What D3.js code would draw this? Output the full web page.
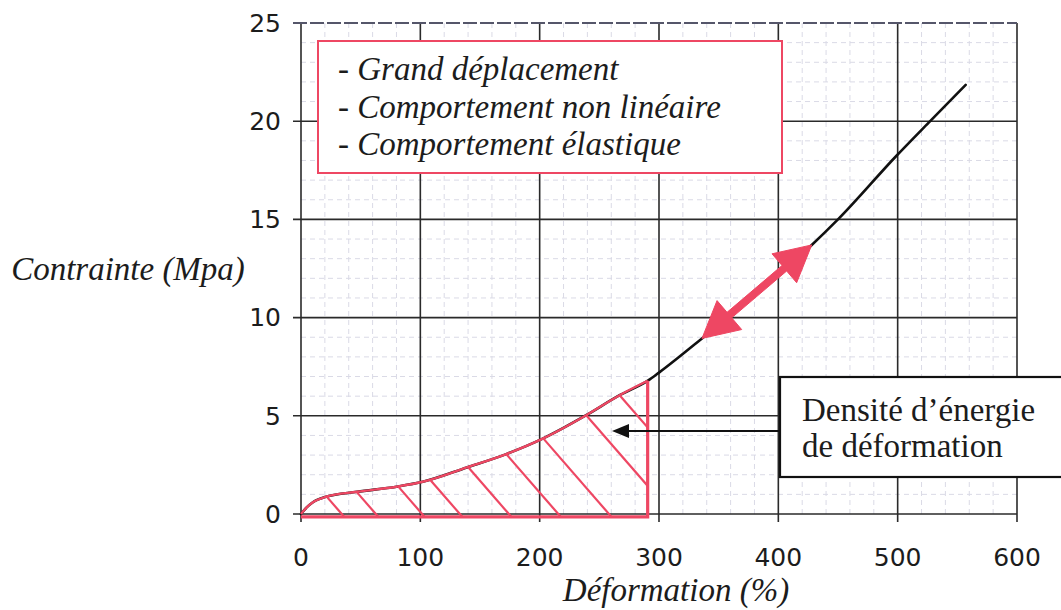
<!DOCTYPE html>
<html>
<head>
<meta charset="utf-8">
<script src="https://cdn.jsdelivr.net/npm/d3@7"></script>
<style>
  html, body { margin: 0; padding: 0; background: #ffffff; }
  svg { display: block; }
</style>
</head>
<body>
<svg id="chart" width="1061" height="610"></svg>
<script>
// Stress–strain curve of an elastomer (large strain, non-linear, elastic)
const strain = [0, 5, 10, 21, 47, 80, 102, 139, 172, 203, 239, 267, 291, 300, 336, 400, 428, 450, 499, 526, 557];
const stress = [0, 0.35, 0.6, 0.88, 1.13, 1.39, 1.64, 2.37, 3.05, 3.85, 5.03, 6.05, 6.8, 7.2, 8.94, 12.2, 13.7, 15.0, 18.24, 19.93, 21.85];

const xTicks = [0, 100, 200, 300, 400, 500, 600];
const yTicks = [0, 5, 10, 15, 20, 25];

// Strain energy density region: integrated up to this strain
const energyLimit = 290.5;
// Strain values where the hatch strokes leave the curve
const hatchStarts = [21.5, 46.6, 81.4, 108, 140, 172, 203, 239, 267];
// Strain range covered by the double arrow along the curve
const arrowRange = [336, 428];

const boxLines = ["- Grand déplacement", "- Comportement non linéaire", "- Comportement élastique"];
const noteLines = ["Densité d’énergie", "de déformation"];
const xTitle = "Déformation (%)";
const yTitle = "Contrainte (Mpa)";

const RED = "#ee4763";
const INK = "#1c1c1c";
const SERIF = "'Liberation Serif', 'Times New Roman', serif";
const SANS = "'DejaVu Sans', sans-serif";

const svg = d3.select("#chart");
const x = d3.scaleLinear().domain([0, 600]).range([301, 1017]);
const y = d3.scaleLinear().domain([0, 25]).range([514, 23]);

const pts = strain.map((s, i) => [s, stress[i]]);
const interp = s => {
  for (let i = 1; i < pts.length; i++) {
    if (s <= pts[i][0]) {
      const [x0, y0] = pts[i - 1], [x1, y1] = pts[i];
      return y0 + (y1 - y0) * (s - x0) / (x1 - x0);
    }
  }
  return pts[pts.length - 1][1];
};

// Minor grid
const g = svg.append("g");
g.selectAll("line.mx").data(d3.range(20, 600, 20).filter(v => v % 100 !== 0)).join("line")
  .attr("x1", d => x(d)).attr("x2", d => x(d)).attr("y1", y(25)).attr("y2", y(0))
  .attr("stroke", "#dadae6").attr("stroke-width", 1).attr("stroke-dasharray", "5,4");
g.selectAll("line.my").data(d3.range(1, 25, 1).filter(v => v % 5 !== 0)).join("line")
  .attr("x1", x(0)).attr("x2", x(600)).attr("y1", d => y(d)).attr("y2", d => y(d))
  .attr("stroke", "#dadae6").attr("stroke-width", 1).attr("stroke-dasharray", "5,4");

// Major grid
g.selectAll("line.Mx").data(xTicks).join("line")
  .attr("x1", d => x(d)).attr("x2", d => x(d)).attr("y1", y(25)).attr("y2", y(0) + 8)
  .attr("stroke", "#2a2a2a").attr("stroke-width", 1.6);
g.selectAll("line.My").data(yTicks).join("line")
  .attr("x1", x(0) - 8).attr("x2", x(600)).attr("y1", d => y(d)).attr("y2", d => y(d))
  .attr("stroke", d => d === 25 ? "#55566a" : "#2a2a2a")
  .attr("stroke-width", d => d === 25 ? 2 : 1.6)
  .attr("stroke-dasharray", d => d === 25 ? "14,3" : null);

// Tick labels
svg.append("g").selectAll("text").data(xTicks).join("text")
  .attr("x", d => x(d)).attr("y", 557).attr("dy", "0.35em")
  .attr("text-anchor", "middle").attr("font-family", SANS).attr("font-size", 25)
  .attr("fill", INK).text(d => d);
svg.append("g").selectAll("text").data(yTicks).join("text")
  .attr("x", 281).attr("y", d => y(d)).attr("dy", "0.35em")
  .attr("text-anchor", "end").attr("font-family", SANS).attr("font-size", 25)
  .attr("fill", INK).text(d => d);

// Axis titles
svg.append("text").attr("x", 676).attr("y", 601)
  .attr("text-anchor", "middle").attr("font-family", SERIF).attr("font-style", "italic")
  .attr("font-size", 33).attr("fill", INK).text(xTitle);
svg.append("text").attr("x", 128).attr("y", 280)
  .attr("text-anchor", "middle").attr("font-family", SERIF).attr("font-style", "italic")
  .attr("font-size", 33).attr("fill", INK).text(yTitle);

// Curve
const line = d3.line().x(d => x(d[0])).y(d => y(d[1])).curve(d3.curveMonotoneX);
svg.append("path").datum(pts).attr("d", line)
  .attr("fill", "none").attr("stroke", "#111").attr("stroke-width", 2.6)
  .attr("stroke-linejoin", "round").attr("stroke-linecap", "round");

// Energy density region (hatched)
const lower = pts.filter(p => p[0] < energyLimit).concat([[energyLimit, interp(energyLimit)]]);
const base = -0.15;
const region = lower.concat([[energyLimit, base], [0, base]]);
const regionLine = d3.line().x(d => x(d[0])).y(d => y(d[1])).curve(d3.curveLinear);

svg.append("clipPath").attr("id", "energyClip")
  .append("path").attr("d", regionLine(region) + "Z");

const slope = 1.15;
svg.append("g").attr("clip-path", "url(#energyClip)")
  .selectAll("line").data(hatchStarts).join("line")
  .attr("x1", d => x(d)).attr("y1", d => y(interp(d)))
  .attr("x2", d => x(d) + 200).attr("y2", d => y(interp(d)) + 200 * slope)
  .attr("stroke", RED).attr("stroke-width", 2.2);

svg.append("path").datum(lower).attr("d", line)
  .attr("fill", "none").attr("stroke", RED).attr("stroke-width", 2.4);
svg.append("path")
  .attr("d", d3.line()([[x(energyLimit), y(interp(energyLimit))], [x(energyLimit), y(base)], [x(0), y(base)]]))
  .attr("fill", "none").attr("stroke", RED).attr("stroke-width", 3.2).attr("stroke-linejoin", "miter");

// Double arrow along the curve
(function () {
  const p1 = [x(arrowRange[0]), y(interp(arrowRange[0]))];
  const p2 = [x(arrowRange[1]), y(interp(arrowRange[1]))];
  const dx = p2[0] - p1[0], dy = p2[1] - p1[1], L = Math.hypot(dx, dy);
  const u = [dx / L, dy / L], n = [-u[1], u[0]];
  const H = 36, W = 19, w = 3.6;
  const at = (p, a, b) => [p[0] + u[0] * a + n[0] * b, p[1] + u[1] * a + n[1] * b];
  const poly = [p1, at(p1, H, W), at(p1, H, w), at(p2, -H, w), at(p2, -H, W), p2,
                at(p2, -H, -W), at(p2, -H, -w), at(p1, H, -w), at(p1, H, -W)];
  svg.append("path").attr("d", d3.line()(poly) + "Z").attr("fill", RED).attr("stroke", RED)
    .attr("stroke-width", 1).attr("stroke-linejoin", "round");
})();

// Red text box
svg.append("rect").attr("x", 318).attr("y", 41).attr("width", 464).attr("height", 132)
  .attr("fill", "#fff").attr("stroke", RED).attr("stroke-width", 2);
svg.append("g").selectAll("text").data(boxLines).join("text")
  .attr("x", 338).attr("y", (d, i) => 80 + i * 37.5)
  .attr("font-family", SERIF).attr("font-style", "italic").attr("font-size", 33)
  .attr("fill", INK).text(d => d);

// Note box with pointer
svg.append("rect").attr("x", 780).attr("y", 377).attr("width", 320).attr("height", 100)
  .attr("fill", "#fff").attr("stroke", "#111").attr("stroke-width", 2.2);
svg.append("g").selectAll("text").data(noteLines).join("text")
  .attr("x", 802).attr("y", (d, i) => 421 + i * 36)
  .attr("font-family", SERIF).attr("font-size", 33).attr("fill", INK).text(d => d);
svg.append("line").attr("x1", 780).attr("x2", 626).attr("y1", 431).attr("y2", 431)
  .attr("stroke", "#111").attr("stroke-width", 2);
svg.append("path").attr("d", d3.line()([[612, 431], [629, 424], [629, 438]]) + "Z")
  .attr("fill", "#111");
</script>
</body>
</html>
